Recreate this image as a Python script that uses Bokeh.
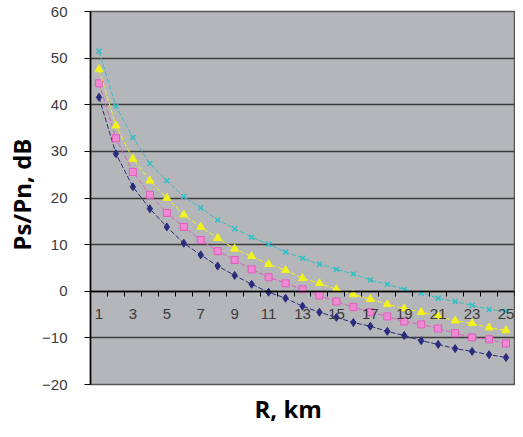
from bokeh.plotting import figure
from bokeh.models import FixedTicker, LinearAxis, Range1d, Title
from bokeh.embed import file_html
from bokeh.resources import INLINE

# ---- data ----
r_km = list(range(1, 26))
series_blue = [41.6, 29.5, 22.4, 17.7, 13.8, 10.3, 7.8, 5.4, 3.4, 1.5, -0.2, -1.5, -3.2,
               -4.5, -5.6, -6.7, -7.5, -8.6, -9.5, -10.6, -11.4, -12.3, -12.9, -13.6, -14.2]
series_magenta = [44.6, 32.8, 25.6, 20.7, 16.8, 13.8, 11.0, 8.6, 6.7, 4.7, 3.0, 1.7, 0.4,
                  -0.9, -2.2, -3.4, -4.5, -5.4, -6.5, -7.1, -8.0, -9.0, -9.9, -10.3, -11.2]
series_yellow = [47.6, 35.5, 28.4, 23.7, 20.0, 16.4, 13.8, 11.4, 9.1, 7.5, 5.8, 4.5, 2.8,
                 1.7, 0.4, -0.7, -1.7, -2.8, -3.7, -4.5, -5.4, -6.3, -6.9, -7.8, -8.4]
series_cyan = [51.5, 39.7, 33.0, 27.4, 23.7, 20.3, 17.9, 15.3, 13.4, 11.6, 10.1, 8.4, 7.1,
               5.8, 4.7, 3.7, 2.4, 1.5, 0.4, -0.4, -1.5, -2.2, -3.0, -3.9, -4.3]
x_tick_labels = [1, 3, 5, 7, 9, 11, 13, 15, 17, 19, 21, 23, 25]
y_ticks = [-20, -10, 0, 10, 20, 30, 40, 50, 60]

p = figure(width=515, height=429, output_backend="svg", toolbar_location=None,
           x_range=Range1d(0.5, 25.5), y_range=Range1d(-20, 60),
           x_axis_type=None, min_border_left=85, min_border_top=11,
           min_border_right=1, min_border_bottom=43)
p.background_fill_color = "#b5b6b9"
p.border_fill_color = "white"
p.outline_line_color = "#555555"
p.outline_line_width = 1.5

# y axis
p.yaxis.ticker = FixedTicker(ticks=y_ticks)
p.yaxis.axis_line_color = "black"
p.yaxis.axis_line_width = 1.5
p.yaxis.major_tick_out = 6
p.yaxis.major_tick_in = 0
p.yaxis.minor_tick_line_color = None
p.yaxis.major_tick_line_color = "black"
p.yaxis.major_label_standoff = 17
p.yaxis.major_label_text_font = "Liberation Sans"
p.yaxis.major_label_text_font_size = "15px"
p.yaxis.major_label_text_color = "#3a3a3a"

p.ygrid.ticker = FixedTicker(ticks=y_ticks)
p.ygrid.grid_line_color = "#3c3c3c"
p.ygrid.grid_line_width = 1.5
p.xgrid.visible = False

# x axis: ticks at category boundaries, at y = 0
boundaries = [v - 0.5 for v in r_km] + [r_km[-1] + 0.5]
ax_ticks = LinearAxis(fixed_location=0, ticker=FixedTicker(ticks=boundaries))
ax_ticks.major_tick_in = 0
ax_ticks.major_tick_out = 5
ax_ticks.major_tick_line_color = "black"
ax_ticks.axis_line_color = "black"
ax_ticks.axis_line_width = 1.5
ax_ticks.minor_tick_line_color = None
ax_ticks.major_label_text_alpha = 0
ax_ticks.major_label_text_font_size = "1px"
p.add_layout(ax_ticks, "below")

ax_lab = LinearAxis(fixed_location=0, ticker=FixedTicker(ticks=x_tick_labels))
ax_lab.major_tick_line_color = None
ax_lab.minor_tick_line_color = None
ax_lab.major_tick_out = 0
ax_lab.major_tick_in = 0
ax_lab.axis_line_color = None
ax_lab.major_label_standoff = 18
ax_lab.major_label_text_font = "Liberation Sans"
ax_lab.major_label_text_font_size = "15px"
ax_lab.major_label_text_color = "#3a3a3a"
p.add_layout(ax_lab, "below")

# series
line_dash = "5 2"
p.line(r_km, series_blue, line_color="#2b2b7e", line_width=1, line_dash=line_dash)
p.scatter(r_km, series_blue, marker="diamond", size=8, fill_color="#2b2b7e", line_color="#2b2b7e")

p.line(r_km, series_magenta, line_color="#e05cbc", line_width=1, line_dash=line_dash)
p.scatter(r_km, series_magenta, marker="square", size=7, fill_color="#ee8ad4", line_color="#e05cbc")

p.line(r_km, series_yellow, line_color="#f2f21c", line_width=1, line_dash=line_dash)
p.scatter(r_km, series_yellow, marker="triangle", size=8, fill_color="#f2f21c", line_color="#f2f21c")

p.line(r_km, series_cyan, line_color="#2fc0c8", line_width=1, line_dash=line_dash)
p.scatter(r_km, series_cyan, marker="x", size=7, line_color="#2fc0c8", line_width=1.5)

# titles
p.add_layout(Title(text="Ps/Pn, dB", align="right", offset=127, standoff=4, text_font="Open Sans",
                   text_font_size="24px", text_font_style="bold", text_color="black"), "left")
p.add_layout(Title(text="R, km", align="left", offset=164, text_font="Open Sans",
                   text_font_size="24px", text_font_style="bold", text_color="black"), "below")

open("out.html", "w").write(file_html(p, INLINE))
